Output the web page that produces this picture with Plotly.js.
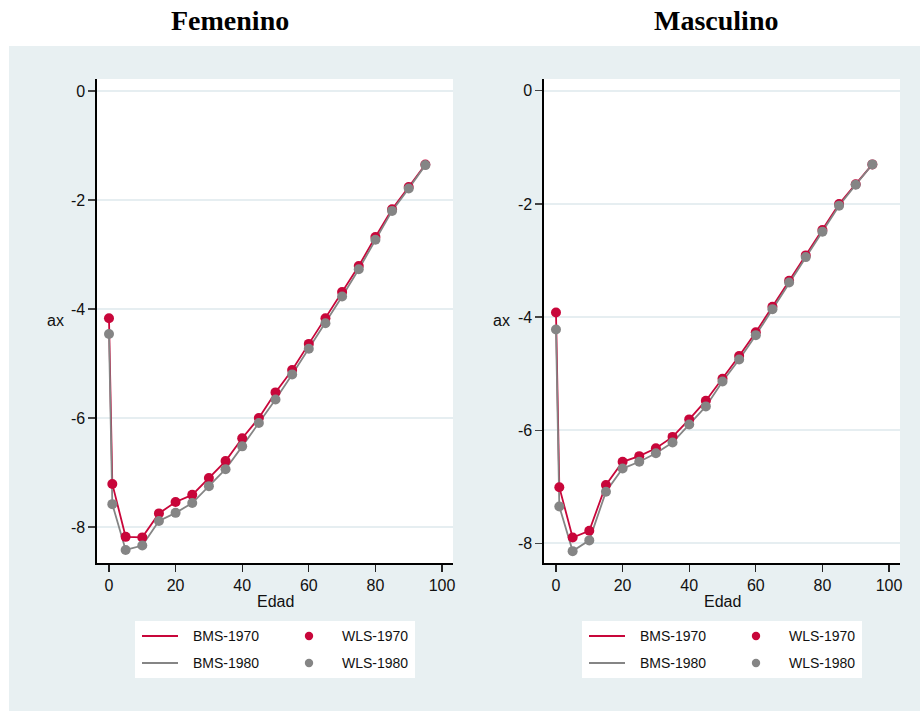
<!DOCTYPE html>
<html>
<head>
<meta charset="utf-8">
<script src="https://cdn.plot.ly/plotly-3.0.1.min.js"></script>
<style>
  html, body { margin: 0; padding: 0; background: #ffffff; }
  #chart { width: 920px; height: 711px; }
</style>
</head>
<body>
<div id="chart"></div>
<script>
// Age groups (Edad)
const ages = [0, 1, 5, 10, 15, 20, 25, 30, 35, 40, 45, 50, 55, 60, 65, 70, 75, 80, 85, 90, 95];

// ax estimates, women
const fem1970 = [-4.17, -7.21, -8.18, -8.19, -7.75, -7.54, -7.41, -7.10, -6.79, -6.37, -6.00,
                 -5.53, -5.12, -4.64, -4.17, -3.69, -3.21, -2.68, -2.17, -1.76, -1.35];
const fem1980 = [-4.46, -7.58, -8.42, -8.34, -7.89, -7.74, -7.56, -7.25, -6.94, -6.52, -6.09,
                 -5.66, -5.20, -4.73, -4.26, -3.77, -3.27, -2.73, -2.20, -1.79, -1.36];

// ax estimates, men
const mas1970 = [-3.92, -7.01, -7.90, -7.78, -6.97, -6.56, -6.46, -6.32, -6.12, -5.81, -5.48,
                 -5.09, -4.69, -4.27, -3.82, -3.36, -2.91, -2.46, -2.00, -1.65, -1.30];
const mas1980 = [-4.22, -7.35, -8.14, -7.95, -7.09, -6.68, -6.56, -6.41, -6.22, -5.90, -5.58,
                 -5.14, -4.75, -4.32, -3.86, -3.39, -2.94, -2.49, -2.03, -1.66, -1.30];

const panelTitles = ['Femenino', 'Masculino'];
const seriesNames = ['BMS-1970', 'BMS-1980', 'WLS-1970', 'WLS-1980'];
const xTicks = [0, 20, 40, 60, 80, 100];
const yTicks = [0, -2, -4, -6, -8];
const yTickText = ['0', '-2', '-4', '-6', '-8'];

const RED = '#c8063a';
const GREY = '#858585';
const BG = '#e8f0f2';
const W = 920, H = 711;

// pixel -> paper helpers for layout positioning
const px = x => x / W;
const py = y => 1 - y / H;

const panels = [
  { s70: fem1970, s80: fem1980, xa: 'x', ya: 'y' },
  { s70: mas1970, s80: mas1980, xa: 'x2', ya: 'y2' }
];

const traces = [];
panels.forEach(p => {
  traces.push({ x: ages, y: p.s70, xaxis: p.xa, yaxis: p.ya, type: 'scatter', mode: 'lines',
                line: { color: RED, width: 1.8 }, name: seriesNames[0], showlegend: false, hoverinfo: 'x+y' });
  traces.push({ x: ages, y: p.s80, xaxis: p.xa, yaxis: p.ya, type: 'scatter', mode: 'lines',
                line: { color: GREY, width: 1.8 }, name: seriesNames[1], showlegend: false, hoverinfo: 'x+y' });
  traces.push({ x: ages, y: p.s70, xaxis: p.xa, yaxis: p.ya, type: 'scatter', mode: 'markers',
                marker: { color: RED, size: 10 }, name: seriesNames[2], showlegend: false, hoverinfo: 'x+y' });
  traces.push({ x: ages, y: p.s80, xaxis: p.xa, yaxis: p.ya, type: 'scatter', mode: 'markers',
                marker: { color: GREY, size: 10 }, name: seriesNames[3], showlegend: false, hoverinfo: 'x+y' });
});

const tickFont = { family: 'Liberation Sans, Arial, sans-serif', size: 16, color: '#111' };

function xAxis(domain, anchor) {
  return {
    domain: domain, anchor: anchor, range: [-3.6, 103.3],
    tickmode: 'array', tickvals: xTicks, ticks: 'outside', ticklen: 7, tickwidth: 1.2, tickcolor: '#222',
    showline: true, linecolor: '#000', linewidth: 1.6, showgrid: false, zeroline: false,
    tickfont: tickFont, fixedrange: true
  };
}
function yAxis(domain, anchor, range) {
  return {
    domain: domain, anchor: anchor, range: range,
    tickmode: 'array', tickvals: yTicks, ticktext: yTickText, ticks: 'outside', ticklen: 7, tickwidth: 1.2,
    tickcolor: '#444', showline: true, linecolor: '#000', linewidth: 1.6,
    showgrid: true, gridcolor: '#e6eef1', gridwidth: 1.5, zeroline: false,
    tickfont: tickFont, fixedrange: true
  };
}

const panelOffset = 447;
const shapes = [
  // white band behind the titles and left margin
  { type: 'rect', xref: 'paper', yref: 'paper', x0: 0, x1: 1, y0: py(46), y1: 1,
    fillcolor: '#ffffff', line: { width: 0 }, layer: 'below' },
  { type: 'rect', xref: 'paper', yref: 'paper', x0: 0, x1: px(9), y0: 0, y1: 1,
    fillcolor: '#ffffff', line: { width: 0 }, layer: 'below' }
];
const annotations = [];

[0, 1].forEach(i => {
  const o = i * panelOffset;
  // panel title
  annotations.push({ xref: 'paper', yref: 'paper', x: px(230 + i * 486), y: py(21), text: '<b>' + panelTitles[i] + '</b>',
    showarrow: false, xanchor: 'center', yanchor: 'middle',
    font: { family: 'Liberation Serif, Times New Roman, serif', size: 28, color: '#000' } });
  // y-axis label
  annotations.push({ xref: 'paper', yref: 'paper', x: px(55 + o), y: py(320), text: 'ax',
    showarrow: false, xanchor: 'center', yanchor: 'middle', font: tickFont });
  // x-axis label
  annotations.push({ xref: 'paper', yref: 'paper', x: px(275 + o), y: py(601), text: 'Edad',
    showarrow: false, xanchor: 'center', yanchor: 'middle', font: tickFont });

  // legend box
  shapes.push({ type: 'rect', xref: 'paper', yref: 'paper', x0: px(135 + o), x1: px(415 + o), y0: py(678), y1: py(621),
    fillcolor: '#ffffff', line: { width: 0 }, layer: 'below' });
  const rows = [636, 663];
  const cols = [RED, GREY];
  rows.forEach((ry, r) => {
    shapes.push({ type: 'line', xref: 'paper', yref: 'paper', x0: px(142 + o), x1: px(178 + o), y0: py(ry), y1: py(ry),
      line: { color: cols[r], width: 1.8 } });
    shapes.push({ type: 'circle', xref: 'paper', yref: 'paper', xsizemode: 'pixel', ysizemode: 'pixel',
      xanchor: px(309 + o), yanchor: py(ry), x0: -4.2, x1: 4.2, y0: -4.2, y1: 4.2,
      fillcolor: cols[r], line: { width: 0 } });
    annotations.push({ xref: 'paper', yref: 'paper', x: px(191 + o), y: py(ry), text: seriesNames[r],
      showarrow: false, xanchor: 'left', yanchor: 'middle',
      font: { family: 'Liberation Sans, Arial, sans-serif', size: 14, color: '#111' } });
    annotations.push({ xref: 'paper', yref: 'paper', x: px(340 + o), y: py(ry), text: seriesNames[r + 2],
      showarrow: false, xanchor: 'left', yanchor: 'middle',
      font: { family: 'Liberation Sans, Arial, sans-serif', size: 14, color: '#111' } });
  });
});

const yDom = [py(563), py(79)];
const layout = {
  width: W, height: H,
  margin: { l: 0, r: 0, t: 0, b: 0 },
  paper_bgcolor: BG,
  plot_bgcolor: '#ffffff',
  showlegend: false,
  xaxis: xAxis([px(97), px(453)], 'y'),
  yaxis: yAxis(yDom, 'x', [-8.66, 0.22]),
  xaxis2: xAxis([px(544), px(900)], 'y2'),
  yaxis2: yAxis(yDom, 'x2', [-8.35, 0.21]),
  shapes: shapes,
  annotations: annotations
};

Plotly.newPlot('chart', traces, layout, { displayModeBar: false, staticPlot: true });
</script>
</body>
</html>
